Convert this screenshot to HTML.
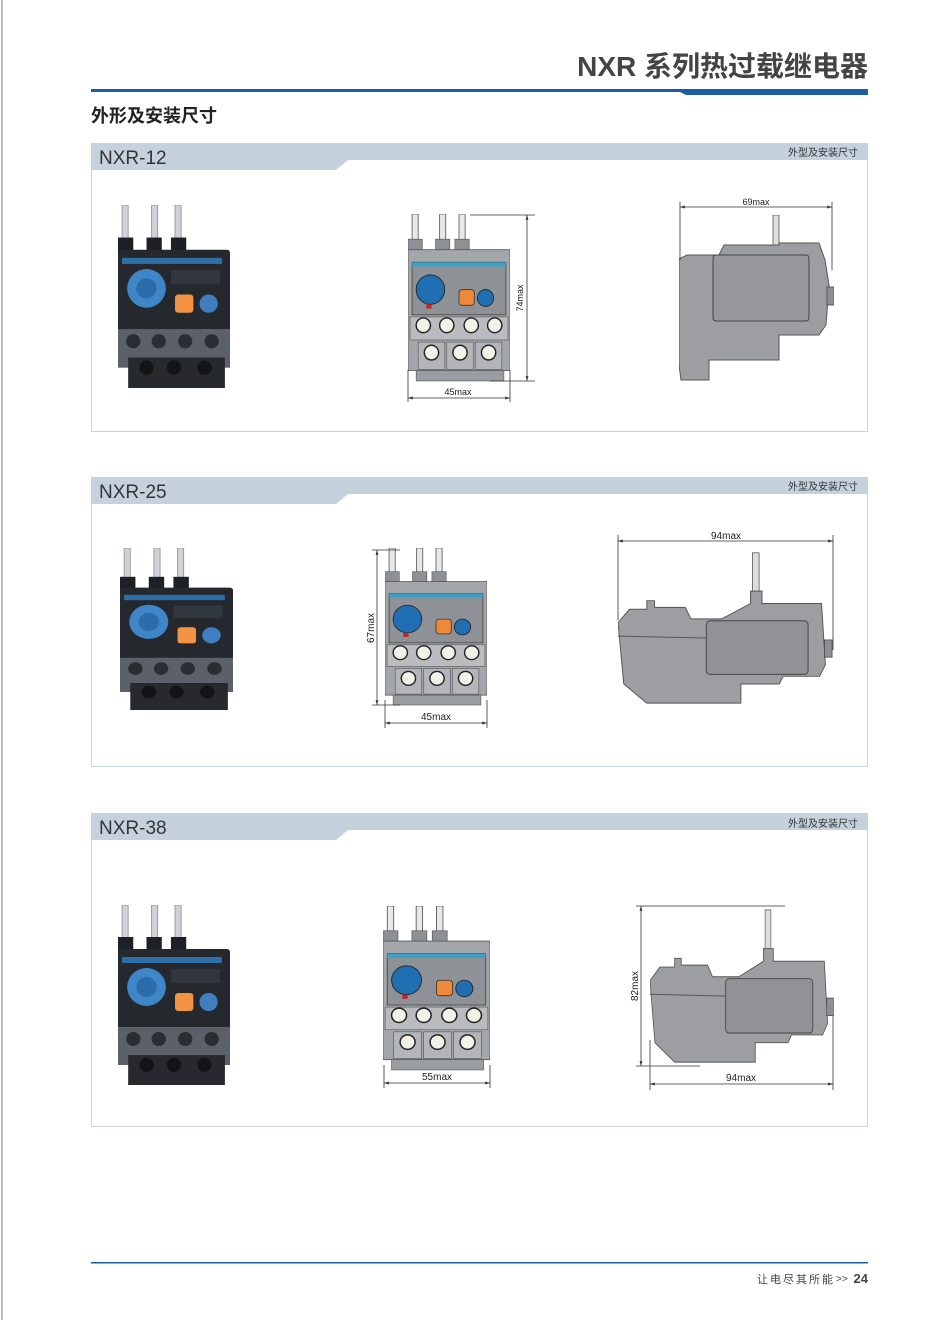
<!DOCTYPE html>
<html><head><meta charset="utf-8"><style>
html,body{margin:0;padding:0;background:#fff;}
svg{display:block}
text{font-family:"Liberation Sans","Noto Sans CJK SC",sans-serif;}
</style></head><body>
<svg width="934" height="1320" viewBox="0 0 934 1320" xmlns="http://www.w3.org/2000/svg">
<defs>
<symbol id="photo" viewBox="0 0 110 180" preserveAspectRatio="none">
  <rect x="4" y="0" width="6" height="40" fill="#cfd3d8" stroke="#8a8f96" stroke-width="0.8"/>
  <rect x="33" y="0" width="6" height="40" fill="#cfd3d8" stroke="#8a8f96" stroke-width="0.8"/>
  <rect x="56" y="0" width="6" height="40" fill="#cfd3d8" stroke="#8a8f96" stroke-width="0.8"/>
  <rect x="0" y="32" width="15" height="18" fill="#1d2024"/>
  <rect x="28" y="32" width="15" height="18" fill="#1d2024"/>
  <rect x="52" y="32" width="15" height="18" fill="#1d2024"/>
  <rect x="0" y="44" width="110" height="82" rx="3" fill="#25292e"/>
  <rect x="4" y="52" width="98" height="6" fill="#2f6fa8"/>
  <circle cx="28" cy="82" r="19" fill="#3f86c8"/>
  <circle cx="28" cy="82" r="10" fill="#2c6ca8"/>
  <rect x="52" y="64" width="48" height="14" fill="#32373d"/>
  <rect x="56" y="88" width="18" height="18" rx="3" fill="#f39344"/>
  <circle cx="89" cy="97" r="9" fill="#3f7fc0"/>
  <rect x="0" y="122" width="110" height="38" fill="#5b6069"/>
  <circle cx="15" cy="134" r="7" fill="#2a2d31"/><circle cx="40" cy="134" r="7" fill="#2a2d31"/>
  <circle cx="66" cy="134" r="7" fill="#2a2d31"/><circle cx="92" cy="134" r="7" fill="#2a2d31"/>
  <rect x="10" y="150" width="95" height="30" fill="#26292d"/>
  <circle cx="28" cy="160" r="7" fill="#121416"/><circle cx="55" cy="160" r="7" fill="#121416"/><circle cx="85" cy="160" r="7" fill="#121416"/>
</symbol>
<symbol id="front" viewBox="0 0 100 160" preserveAspectRatio="none">
  <rect x="4" y="0" width="6" height="28" fill="#e8e8e8" stroke="#555" stroke-width="0.8"/>
  <rect x="31" y="0" width="6" height="28" fill="#e8e8e8" stroke="#555" stroke-width="0.8"/>
  <rect x="50" y="0" width="6" height="28" fill="#e8e8e8" stroke="#555" stroke-width="0.8"/>
  <rect x="0" y="24" width="14" height="12" fill="#8d9095" stroke="#555" stroke-width="0.6"/>
  <rect x="27" y="24" width="14" height="12" fill="#8d9095" stroke="#555" stroke-width="0.6"/>
  <rect x="46" y="24" width="14" height="12" fill="#8d9095" stroke="#555" stroke-width="0.6"/>
  <rect x="0" y="34" width="100" height="115" fill="#a3a6aa" stroke="#555" stroke-width="0.8"/>
  <rect x="4" y="46" width="92" height="50" fill="#8e9196" stroke="#444" stroke-width="0.8"/>
  <rect x="4" y="46" width="92" height="4" fill="#3aa0c8"/>
  <circle cx="22" cy="72" r="14" fill="#1f6fb2" stroke="#222" stroke-width="0.8"/>
  <rect x="18" y="86" width="5" height="4" fill="#d02020"/>
  <rect x="50" y="72" width="15" height="15" rx="3" fill="#f0883a" stroke="#333" stroke-width="0.8"/>
  <circle cx="76" cy="80" r="8" fill="#1f6fb2" stroke="#222" stroke-width="0.8"/>
  <rect x="2" y="98" width="96" height="22" fill="#b9bbbe" stroke="#555" stroke-width="0.6"/>
  <g fill="#f2f2e8" stroke="#222" stroke-width="1.4">
   <circle cx="15" cy="106" r="7"/><circle cx="38" cy="106" r="7"/><circle cx="62" cy="106" r="7"/><circle cx="85" cy="106" r="7"/>
  </g>
  <rect x="10" y="122" width="26" height="26" fill="#b3b5b8" stroke="#555" stroke-width="0.6"/>
  <rect x="38" y="122" width="26" height="26" fill="#b3b5b8" stroke="#555" stroke-width="0.6"/>
  <rect x="66" y="122" width="26" height="26" fill="#b3b5b8" stroke="#555" stroke-width="0.6"/>
  <g fill="#f2f2e8" stroke="#222" stroke-width="1.4">
   <circle cx="23" cy="132" r="7"/><circle cx="51" cy="132" r="7"/><circle cx="79" cy="132" r="7"/>
  </g>
  <rect x="8" y="149" width="86" height="10" fill="#9a9da1" stroke="#555" stroke-width="0.6"/>
</symbol>
<symbol id="side" viewBox="0 0 225 165" preserveAspectRatio="none">
  <rect x="140" y="5" width="7" height="45" fill="#ddd" stroke="#555" stroke-width="0.8"/>
  <polygon points="0,78 12,64 30,64 30,55 38,55 38,62 70,62 76,74 108,74 138,58 138,45 150,45 150,58 212,58 216,122 210,134 172,134 168,142 128,142 128,162 30,162 6,142" fill="#9c9ea2" stroke="#555" stroke-width="1"/>
  <rect x="92" y="76" width="106" height="56" rx="4" fill="#909296" stroke="#444" stroke-width="1"/>
  <line x1="0" y1="92" x2="92" y2="94" stroke="#555" stroke-width="1"/>
  <rect x="215" y="96" width="8" height="18" fill="#8e9094" stroke="#444" stroke-width="0.8"/>
</symbol>
<symbol id="side1" viewBox="0 0 155 168" preserveAspectRatio="none">
  <rect x="94" y="0" width="6" height="32" fill="#ddd" stroke="#555" stroke-width="0.8"/>
  <polygon points="0,44 8,40 40,40 45,30 100,30 100,28 140,28 146,45 150,70 147,110 140,120 100,120 100,145 30,145 30,165 2,165 0,150" fill="#9c9ea2" stroke="#555" stroke-width="1"/>
  <rect x="34" y="40" width="96" height="66" rx="3" fill="#95979b" stroke="#444" stroke-width="1"/>
  <rect x="148" y="72" width="7" height="18" fill="#8e9094" stroke="#444" stroke-width="0.8"/>
</symbol>
<marker id="ar" viewBox="0 0 10 10" refX="10" refY="5" markerWidth="6" markerHeight="6" orient="auto-start-reverse"><path d="M0,2 L10,5 L0,8z" fill="#333"/></marker>
</defs>

<line x1="2" y1="0" x2="2" y2="1320" stroke="#aaa" stroke-width="1.5"/>
<text x="868" y="76" text-anchor="end" font-size="28" font-weight="bold" fill="#444">NXR 系列热过载继电器</text>
<rect x="91" y="89" width="777" height="3" fill="#1a5ea8"/>
<polygon points="680,92 868,92 868,95 686,95" fill="#1a5ea8"/>
<text x="91" y="122" font-size="18" font-weight="bold" fill="#222">外形及安装尺寸</text>

<rect x="91.5" y="143.5" width="776" height="288" fill="#fff" stroke="#c8d4de"/>
<path d="M91,143 H868 V160 H348 L336,170 H91 Z" fill="#c5d2de"/>
<text x="99" y="164" font-size="19" fill="#333">NXR-12</text>
<text x="858" y="156" text-anchor="end" font-size="10" fill="#333">外型及安装尺寸</text>

<rect x="91.5" y="477.5" width="776" height="289" fill="#fff" stroke="#c8d4de"/>
<path d="M91,477 H868 V494 H348 L336,504 H91 Z" fill="#c5d2de"/>
<text x="99" y="498" font-size="19" fill="#333">NXR-25</text>
<text x="858" y="490" text-anchor="end" font-size="10" fill="#333">外型及安装尺寸</text>

<rect x="91.5" y="813.5" width="776" height="313" fill="#fff" stroke="#c8d4de"/>
<path d="M91,813 H868 V830 H348 L336,840 H91 Z" fill="#c5d2de"/>
<text x="99" y="834" font-size="19" fill="#333">NXR-38</text>
<text x="858" y="827" text-anchor="end" font-size="10" fill="#333">外型及安装尺寸</text>

<!-- panel 1 -->
<use href="#photo" x="118" y="205" width="112" height="183"/>
<use href="#front" x="408" y="214" width="102" height="168"/>
<g stroke="#333" stroke-width="0.8" fill="none">
 <line x1="408" y1="370" x2="408" y2="402"/><line x1="510" y1="370" x2="510" y2="402"/>
 <line x1="408" y1="398" x2="510" y2="398" marker-start="url(#ar)" marker-end="url(#ar)"/>
 <line x1="470" y1="215" x2="535" y2="215"/><line x1="490" y1="381" x2="535" y2="381"/>
 <line x1="527" y1="215" x2="527" y2="381" marker-start="url(#ar)" marker-end="url(#ar)"/>
</g>
<text x="458" y="395" text-anchor="middle" font-size="9" fill="#222">45max</text>
<text transform="translate(523,298) rotate(-90)" text-anchor="middle" font-size="9" fill="#222">74max</text>
<use href="#side1" x="679" y="215" width="155" height="168"/>
<g stroke="#333" stroke-width="0.8" fill="none">
 <line x1="680" y1="202" x2="680" y2="260"/><line x1="832" y1="202" x2="832" y2="270"/>
 <line x1="680" y1="207" x2="832" y2="207" marker-start="url(#ar)" marker-end="url(#ar)"/>
</g>
<text x="756" y="205" text-anchor="middle" font-size="9" fill="#222">69max</text>

<!-- panel 2 -->
<use href="#photo" x="120" y="548" width="113" height="162"/>
<use href="#front" x="385" y="548" width="102" height="158"/>
<g stroke="#333" stroke-width="0.8" fill="none">
 <line x1="385" y1="700" x2="385" y2="728"/><line x1="487" y1="700" x2="487" y2="728"/>
 <line x1="385" y1="723" x2="487" y2="723" marker-start="url(#ar)" marker-end="url(#ar)"/>
 <line x1="372" y1="550" x2="400" y2="550"/><line x1="372" y1="705" x2="400" y2="705"/>
 <line x1="377" y1="550" x2="377" y2="705" marker-start="url(#ar)" marker-end="url(#ar)"/>
</g>
<text x="436" y="720" text-anchor="middle" font-size="10" fill="#222">45max</text>
<text transform="translate(374,628) rotate(-90)" text-anchor="middle" font-size="10" fill="#222">67max</text>
<use href="#side" x="618" y="548" width="216" height="158"/>
<g stroke="#333" stroke-width="0.8" fill="none">
 <line x1="618" y1="535" x2="618" y2="620"/><line x1="833" y1="535" x2="833" y2="650"/>
 <line x1="618" y1="541" x2="833" y2="541" marker-start="url(#ar)" marker-end="url(#ar)"/>
</g>
<text x="726" y="539" text-anchor="middle" font-size="10" fill="#222">94max</text>

<!-- panel 3 -->
<use href="#photo" x="118" y="905" width="112" height="180"/>
<use href="#front" x="383" y="906" width="107" height="165"/>
<g stroke="#333" stroke-width="0.8" fill="none">
 <line x1="384" y1="1065" x2="384" y2="1088"/><line x1="490" y1="1065" x2="490" y2="1088"/>
 <line x1="384" y1="1083" x2="490" y2="1083" marker-start="url(#ar)" marker-end="url(#ar)"/>
 <line x1="636" y1="906" x2="785" y2="906"/><line x1="636" y1="1066" x2="700" y2="1066"/>
 <line x1="641" y1="906" x2="641" y2="1066" marker-start="url(#ar)" marker-end="url(#ar)"/>
 <line x1="650" y1="1040" x2="650" y2="1090"/><line x1="833" y1="1000" x2="833" y2="1090"/>
 <line x1="650" y1="1084" x2="833" y2="1084" marker-start="url(#ar)" marker-end="url(#ar)"/>
</g>
<text x="437" y="1080" text-anchor="middle" font-size="10" fill="#222">55max</text>
<text transform="translate(638,986) rotate(-90)" text-anchor="middle" font-size="10" fill="#222">82max</text>
<text x="741" y="1081" text-anchor="middle" font-size="10" fill="#222">94max</text>
<use href="#side" x="650" y="905" width="185" height="160"/>

<rect x="91" y="1262" width="777" height="1.5" fill="#1a5ea8"/>
<text x="757" y="1283" font-size="11" fill="#444" letter-spacing="2">让电尽其所能</text>
<text x="836" y="1282" font-size="10" fill="#444">&gt;&gt;</text>
<text x="868" y="1283" text-anchor="end" font-size="13" font-weight="bold" fill="#444">24</text>
</svg>
</body></html>
